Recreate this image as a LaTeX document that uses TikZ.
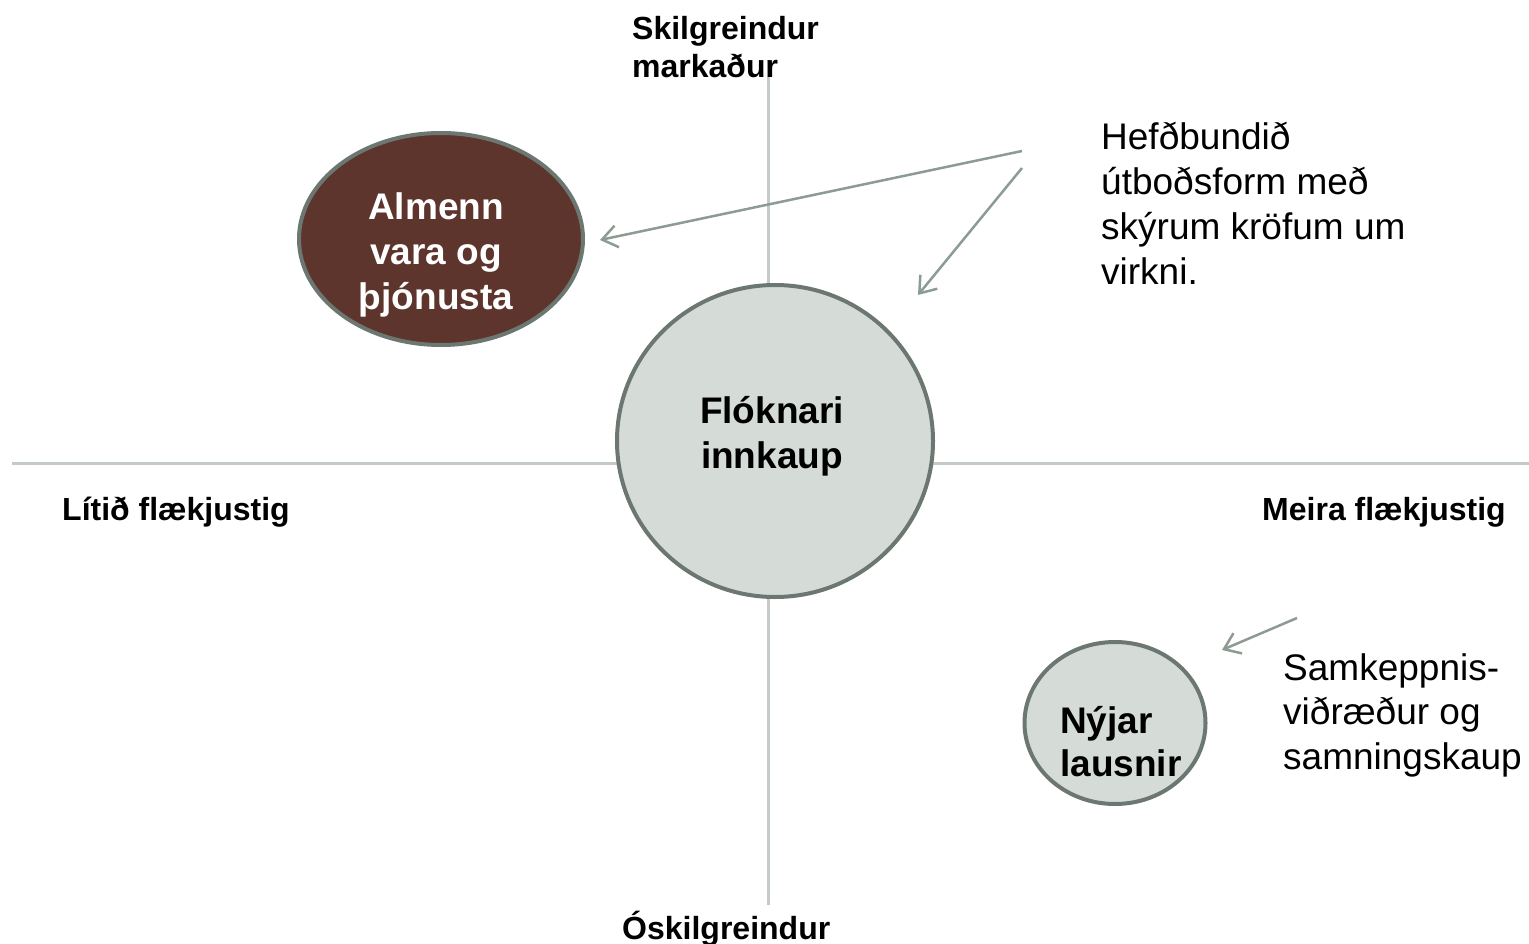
\documentclass[tikz,border=0pt]{standalone}
\usepackage{fontspec}
\setmainfont{Liberation Sans}
\usetikzlibrary{arrows.meta,shapes.geometric}
\definecolor{axisc}{HTML}{C3CBC6}
\definecolor{arrowc}{HTML}{8C9C93}
\definecolor{borderc}{HTML}{6B7770}
\definecolor{lightc}{HTML}{D5DCD8}
\definecolor{brownc}{HTML}{5D352D}
\begin{document}
\begin{tikzpicture}[x=1pt,y=-1pt,
  axisline/.style={draw=axisc,line width=3pt},
  pointer/.style={draw=arrowc,line width=2.5pt,-{Straight Barb[length=15pt,width=22pt]}},
  bubble/.style={ellipse,draw=borderc,line width=4pt,inner sep=0pt},
  axislabel/.style={font=\bfseries\fontsize{32}{38}\selectfont,inner sep=0pt,align=left},
  bubbletext/.style={font=\bfseries\fontsize{37}{45}\selectfont,inner sep=0pt},
  note/.style={font=\fontsize{37}{45}\selectfont,inner sep=0pt,align=left}]
\useasboundingbox (0,0) rectangle (1529,944);
% axes
\coordinate (axL) at (12,463);
\coordinate (axR) at (1529,463);
\coordinate (axT) at (768,60);
\coordinate (axB) at (768,905);
\draw[axisline] (axL) -- (axR);
\draw[axisline] (axT) -- (axB);
% bubbles
\node[bubble,fill=lightc,minimum width=316pt,minimum height=312pt] (flok) at (775,441) {};
\node[bubble,fill=brownc,minimum width=284pt,minimum height=212pt] (almenn) at (441,239) {};
\node[bubble,fill=lightc,minimum width=181pt,minimum height=162pt] (nyjar) at (1115,723) {};
\node[bubbletext,align=center] (flokT) at (772,436) {Flóknari\\innkaup};
\node[bubbletext,align=center,text=white] (almennT) at (436,255) {Almenn\\vara og\\þjónusta};
\node[bubbletext,align=left,anchor=north west,font=\bfseries\fontsize{37}{43}\selectfont] (nyjarT) at (1060,706) {Nýjar\\lausnir};
% axis labels
\node[axislabel,anchor=north west] (top) at (632,16) {Skilgreindur\\markaður};
\node[axislabel,anchor=base west] (left) at (62,520) {Lítið flækjustig};
\node[axislabel,anchor=base west] (right) at (1262,520) {Meira flækjustig};
\node[axislabel,anchor=base west] (bottom) at (622,939) {Óskilgreindur};
% notes
\node[note,anchor=north west] (hefd) at (1101,122) {Hefðbundið\\útboðsform með\\skýrum kröfum um\\virkni.};
\node[note,anchor=north west,font=\fontsize{37}{44.5}\selectfont] (samk) at (1283,653) {Samkeppnis-\\viðræður og\\samningskaup};
% pointers
\coordinate (p1s) at (1022,151);
\coordinate (p1e) at (600,240);
\coordinate (p2s) at (1022,168);
\coordinate (p2e) at (918,295);
\coordinate (p3s) at (1297,618);
\coordinate (p3e) at (1222,650);
\draw[pointer] (p1s) -- (p1e);
\draw[pointer] (p2s) -- (p2e);
\draw[pointer] (p3s) -- (p3e);
\end{tikzpicture}
\end{document}
